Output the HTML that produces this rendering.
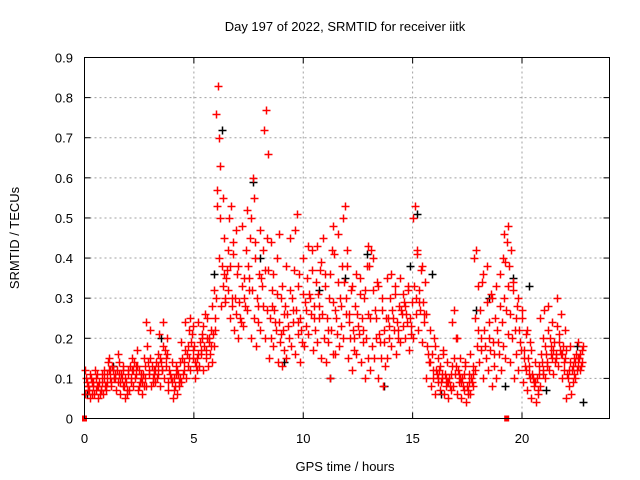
<!DOCTYPE html>
<html><head><meta charset="utf-8">
<style>
html,body{margin:0;padding:0;background:#fff;}
svg{display:block;font-family:"Liberation Sans",sans-serif;}
</style></head>
<body>
<svg id="chart" width="640" height="480" viewBox="0 0 640 480" xmlns="http://www.w3.org/2000/svg">
<rect x="0" y="0" width="640" height="480" fill="#fff"/>
<text x="345" y="31" font-size="13" text-anchor="middle">Day 197 of 2022, SRMTID for receiver iitk</text>
<text x="345" y="471" font-size="13" text-anchor="middle">GPS time / hours</text>
<text x="0" y="0" font-size="13" text-anchor="middle" transform="translate(19,238) rotate(-90)">SRMTID / TECUs</text>
<g id="grid"></g>
<g id="ticks"></g>
<g id="marks"></g>
<rect x="84.5" y="57.5" width="525" height="361" fill="none" stroke="#000" stroke-width="1"/>
</svg>
<script>
const xTicks=[0,5,10,15,20];
const yTicks=[0,0.1,0.2,0.3,0.4,0.5,0.6,0.7,0.8,0.9];
const yTickLabels=["0","0.1","0.2","0.3","0.4","0.5","0.6","0.7","0.8","0.9"];
const binStart=0, binWidth=0.2;
const redBins=[
[.06,.08,.10,.07,.12,.09,.08],[.05,.09,.11,.08,.07,.10,.06],[.06,.10,.12,.08,.09,.07,.11],[.05,.07,.09,.11,.08,.06,.07],[.06,.08,.10,.07,.09,.12,.08],
[.09,.12,.14,.10,.11,.15,.12],[.08,.10,.13,.11,.09,.12,.10],[.07,.09,.12,.14,.10,.16,.11],[.06,.08,.11,.13,.09,.10,.12],[.05,.07,.10,.12,.08,.09,.06],
[.07,.10,.13,.15,.11,.09,.12],[.08,.11,.14,.17,.12,.10,.13],[.07,.09,.12,.10,.13,.08,.11],[.06,.08,.11,.13,.09,.15,.10],[.08,.12,.18,.22,.24,.14,.11],
[.08,.10,.13,.12,.15,.09,.11],[.09,.11,.14,.16,.12,.10,.13],[.08,.12,.15,.18,.21,.14,.12],[.10,.13,.17,.20,.24,.15,.16],[.07,.10,.12,.14,.09,.11,.10],
[.05,.08,.10,.13,.09,.07,.11],[.06,.09,.11,.14,.12,.08,.10],[.09,.12,.15,.17,.19,.11,.14],[.10,.13,.16,.22,.24,.18,.15],[.12,.15,.19,.23,.25,.21,.17],
[.10,.12,.14,.16,.18,.13,.15],[.13,.16,.19,.21,.24,.17,.20],[.12,.15,.18,.20,.23,.26,.17],[.13,.16,.19,.22,.25,.20,.18],[.14,.18,.21,.25,.28,.32,.22],
[.30,.40,.53,.63,.76,.83,.70,.57],[.28,.33,.38,.45,.50,.55,.36],[.30,.32,.35,.42,.29,.37],[.25,.30,.38,.44,.50,.53,.28],[.22,.26,.30,.36,.41,.47],
[.20,.24,.29,.33,.38,.25],[.23,.28,.35,.42,.48,.30],[.27,.32,.38,.45,.52,.35],[.20,.25,.32,.40,.50,.60,.55],[.18,.24,.30,.36,.44,.28],
[.22,.28,.35,.42,.47,.33],[.20,.27,.37,.66,.72,.77,.45],[.15,.20,.25,.32,.37,.44,.28],[.18,.22,.27,.31,.36,.24],[.14,.19,.24,.30,.40,.46,.21],
[.13,.17,.22,.28,.33,.26],[.15,.20,.26,.32,.38,.23],[.18,.24,.30,.37,.45,.27],[.16,.21,.27,.33,.47,.51,.24],[.14,.19,.25,.31,.36,.22],
[.18,.23,.29,.35,.40,.27],[.21,.26,.31,.37,.43,.30],[.17,.22,.28,.34,.42,.25],[.19,.25,.31,.37,.43,.28],[.15,.20,.26,.33,.39,.45],
[.14,.19,.25,.30,.36,.22],[.10,.16,.22,.29,.36,.42,.48],[.16,.21,.27,.34,.41,.25],[.18,.23,.30,.38,.46,.28],[.20,.26,.34,.42,.50,.53,.30],
[.15,.20,.26,.32,.38,.24],[.12,.17,.22,.28,.33,.20],[.16,.21,.26,.31,.36,.23],[.14,.19,.25,.30,.35,.22],[.10,.15,.20,.26,.32,.38,.43],
[.12,.18,.25,.32,.38,.42],[.15,.20,.27,.34,.40,.25],[.10,.15,.21,.27,.33,.19],[.08,.13,.19,.25,.30,.22],[.15,.20,.25,.30,.35,.23],
[.18,.22,.27,.31,.36,.25],[.16,.20,.24,.28,.33,.22],[.19,.23,.27,.31,.35,.26],[.20,.24,.28,.32,.29,.26],[.17,.21,.25,.29,.33,.23],
[.20,.26,.33,.42,.50,.53,.30],[.22,.27,.32,.37,.41,.29],[.19,.24,.29,.34,.38,.26],[.10,.14,.18,.22,.26,.16],[.08,.12,.16,.20,.14,.10],
[.06,.09,.12,.15,.18,.11,.10],[.07,.10,.13,.16,.12,.09,.11],[.06,.08,.11,.14,.17,.10,.09],[.05,.07,.10,.13,.09,.08,.11],[.08,.11,.15,.20,.24,.27,.13],
[.06,.09,.12,.15,.20,.11,.10],[.05,.07,.10,.13,.09,.08,.11],[.04,.06,.08,.11,.14,.07,.09],[.06,.08,.10,.13,.16,.09,.11],[.12,.18,.25,.33,.40,.42],
[.14,.20,.27,.34,.22,.17],[.10,.15,.22,.29,.36,.18],[.12,.17,.24,.31,.38,.20],[.08,.13,.19,.25,.30,.16],[.10,.16,.22,.28,.33,.19],
[.12,.18,.24,.30,.36,.40,.46],[.15,.21,.27,.33,.39,.44,.48],[.14,.20,.26,.32,.38,.42],[.10,.16,.22,.28,.34,.25],[.12,.17,.22,.27,.30,.19],
[.09,.13,.17,.21,.25,.15,.12],[.07,.11,.15,.19,.22,.13,.10],[.05,.08,.11,.14,.17,.10,.09],[.04,.07,.10,.13,.09,.06,.11],[.08,.12,.16,.20,.25,.14,.11],
[.10,.14,.18,.22,.27,.16,.13],[.12,.16,.20,.24,.28,.18,.15],[.11,.15,.19,.23,.17,.14,.16],[.13,.17,.21,.26,.30,.19,.16],[.10,.14,.18,.22,.16,.12,.15],
[.05,.08,.11,.14,.17,.10,.12],[.06,.09,.12,.15,.18,.13,.11],[.10,.13,.16,.19,.14,.12,.15],[.12,.14,.16,.18,.15,.13,.17]
];
const blackTimes=[0.1,1.3,3.5,5.9,6.3,7.7,8.0,9.1,10.7,11.2,11.9,12.9,13.7,14.9,15.2,15.9,16.3,17.9,18.5,19.2,19.6,20.3,21.1,22.5,22.8];
const blackValues=[0.06,0.13,0.20,0.36,0.72,0.59,0.40,0.14,0.32,0.10,0.35,0.41,0.08,0.38,0.51,0.36,0.06,0.27,0.30,0.08,0.35,0.33,0.07,0.18,0.04];
const markerTimes=[0,19.3];
const slotPattern=[0.15,0.7,0.35,0.9,0.05,0.55,0.8,0.25];

const X0=84.5,X1=609.5,Y0=418.5,Y1=57.5,XMAX=24,YMAX=0.9;
const sx=t=>X0+(X1-X0)*t/XMAX;
const sy=v=>Y0-(Y0-Y1)*v/YMAX;
const NS="http://www.w3.org/2000/svg";
const grid=document.getElementById('grid'),ticks=document.getElementById('ticks'),marks=document.getElementById('marks');
function mk(tag,parent){const e=document.createElementNS(NS,tag);parent.appendChild(e);return e;}

xTicks.forEach(t=>{
  const x=sx(t);
  if(t>0){const g=mk('line',grid);
    
    
    g.setAttribute('x1',x);g.setAttribute('x2',x);g.setAttribute('y1',Y0);g.setAttribute('y2',Y1);
    g.setAttribute('stroke','#a0a0a0');g.setAttribute('stroke-dasharray','2,3');}
  [[Y0,Y0-6],[Y1,Y1+6]].forEach(p=>{const l=mk('line',ticks);
    
    
    l.setAttribute('x1',x);l.setAttribute('x2',x);l.setAttribute('y1',p[0]);l.setAttribute('y2',p[1]);l.setAttribute('stroke','#000');});
  const tx=mk('text',ticks);
  
  
  tx.setAttribute('x',x);tx.setAttribute('y',443);tx.setAttribute('font-size','13');tx.setAttribute('text-anchor','middle');tx.textContent=t;
});
yTicks.forEach((v,i)=>{
  const y=sy(v);
  if(v>0&&v<YMAX){const g=mk('line',grid);
    
    
    g.setAttribute('x1',X0);g.setAttribute('x2',X1);g.setAttribute('y1',y);g.setAttribute('y2',y);
    g.setAttribute('stroke','#a0a0a0');g.setAttribute('stroke-dasharray','2,3');}
  [[X0,X0+6],[X1,X1-6]].forEach(p=>{const l=mk('line',ticks);
    
    
    l.setAttribute('x1',p[0]);l.setAttribute('x2',p[1]);l.setAttribute('y1',y);l.setAttribute('y2',y);l.setAttribute('stroke','#000');});
  const tx=mk('text',ticks);
  
  
  tx.setAttribute('x',73);tx.setAttribute('y',y+5);tx.setAttribute('font-size','13');tx.setAttribute('text-anchor','end');tx.textContent=yTickLabels[i];
});
function plus(t,v,color,name){
  const x=Math.round(sx(t))+0.5,y=Math.round(sy(v))+0.5;
  const p=mk('path',marks);
  
  
  p.setAttribute('d',`M${x-4} ${y}H${x+4}M${x} ${y-4}V${y+4}`);
  p.setAttribute('stroke',color);p.setAttribute('stroke-width','1.5');p.setAttribute('fill','none');
}
blackTimes.forEach((t,i)=>plus(t,blackValues[i],'#000','black-point'));
redBins.forEach((vals,b)=>{
  const t0=binStart+b*binWidth;
  vals.forEach((v,k)=>plus(t0+binWidth*slotPattern[k%slotPattern.length],v,'#ff0000','red-point'));
});
markerTimes.forEach(t=>{
  const r=mk('rect',marks);
  
  
  r.setAttribute('x',sx(t)-2.5);r.setAttribute('y',Y0-3);r.setAttribute('width',5);r.setAttribute('height',6);r.setAttribute('fill','#ff0000');
});
</script>
</body></html>
